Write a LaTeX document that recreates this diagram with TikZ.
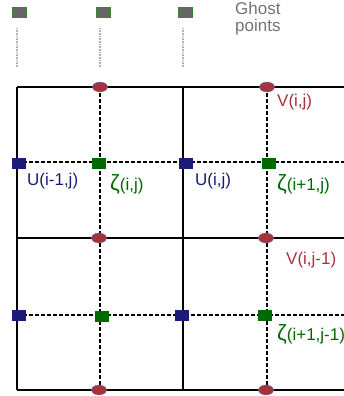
\documentclass[tikz,border=0pt]{standalone}
\usepackage{fontspec}
\setmainfont{Liberation Sans}
\usetikzlibrary{shapes.geometric,positioning}
\definecolor{vred}{HTML}{A8323A}
\definecolor{ublue}{HTML}{1C1C78}
\definecolor{zgreen}{HTML}{006A00}
\definecolor{ghostfill}{HTML}{666666}
\definecolor{gtext}{HTML}{737373}
\definecolor{rim}{HTML}{5A82C0}
\newcommand{\zlab}[1]{{\fontsize{22}{22}\selectfont ζ}#1}

\begin{document}
\begin{tikzpicture}[x=1pt,y=-1pt,
  edge/.style={black,line width=1.6pt},
  stag/.style={black,line width=1.5pt,dash pattern=on 3.5pt off 2.5pt},
  ghostline/.style={gray!60,line width=1.1pt,dash pattern=on 0.8pt off 0.8pt},
  vpt/.style={ellipse,draw=rim,line width=0.4pt,fill=vred,
              minimum width=15pt,minimum height=10pt,inner sep=0pt},
  upt/.style={rectangle,fill=ublue,minimum width=14pt,minimum height=11pt,inner sep=0pt},
  zpt/.style={rectangle,fill=zgreen,minimum width=14pt,minimum height=11pt,inner sep=0pt},
  gpt/.style={rectangle,draw=zgreen!80,line width=0.8pt,fill=ghostfill,
              minimum width=14pt,minimum height=10pt,inner sep=0pt},
  lab/.style={font=\fontsize{17}{17}\selectfont,inner sep=0pt,anchor=base west}]

\useasboundingbox (0,0) rectangle (344,396);

% cell edges
\draw[edge] (17,87) -- (344,87);
\draw[edge] (17,238) -- (344,238);
\draw[edge] (17,390) -- (344,390);
\draw[edge] (17,87) -- (17,390);
\draw[edge] (183,87) -- (183,390);

% staggered lines through the points
\draw[stag] (100,87) -- (100,390);
\draw[stag] (267,87) -- (267,390);
\draw[stag] (17,162) -- (344,162);
\draw[stag] (17,315) -- (344,315);

% ghost points
\node[gpt] (g1) at (19,12) {};
\node[gpt] (g2) at (103,12) {};
\node[gpt] (g3) at (185,12) {};
\draw[ghostline] (17,28) -- (17,67);
\draw[ghostline] (100,28) -- (100,67);
\draw[ghostline] (183,28) -- (183,67);
\node[font=\fontsize{17}{17}\selectfont,text=gtext,align=left,inner sep=0pt,
      anchor=north west] (gl) at (235,2) {Ghost\\points};

% V points
\node[vpt] (v1) at (100,87) {};
\node[vpt] (v2) at (267,87) {};
\node[vpt] (v3) at (99,238) {};
\node[vpt] (v4) at (266,238) {};
\node[vpt] (v5) at (99,390) {};
\node[vpt] (v6) at (266,390) {};

% U points
\node[upt] (u1) at (19,163) {};
\node[upt] (u2) at (186,163) {};
\node[upt] (u3) at (19,315) {};
\node[upt] (u4) at (182,315) {};

% zeta points
\node[zpt] (z1) at (99,163) {};
\node[zpt] (z2) at (269,163) {};
\node[zpt] (z3) at (102,316) {};
\node[zpt] (z4) at (265,315) {};

\node[lab,text=ublue] (ul1) at (27,185) {U(i-1,j)};
\node[lab,text=ublue] (ul2) at (195,185) {U(i,j)};
\node[lab,text=vred] (vl1) at (277,106) {V(i,j)};
\node[lab,text=vred] (vl2) at (286,264) {V(i,j-1)};
\node[lab,text=zgreen] (zl1) at (110,190) {\zlab{(i,j)}};
\node[lab,text=zgreen] (zl2) at (277,190) {\zlab{(i+1,j)}};
\node[lab,text=zgreen] (zl3) at (277,340) {\zlab{(i+1,j-1)}};
\end{tikzpicture}
\end{document}
